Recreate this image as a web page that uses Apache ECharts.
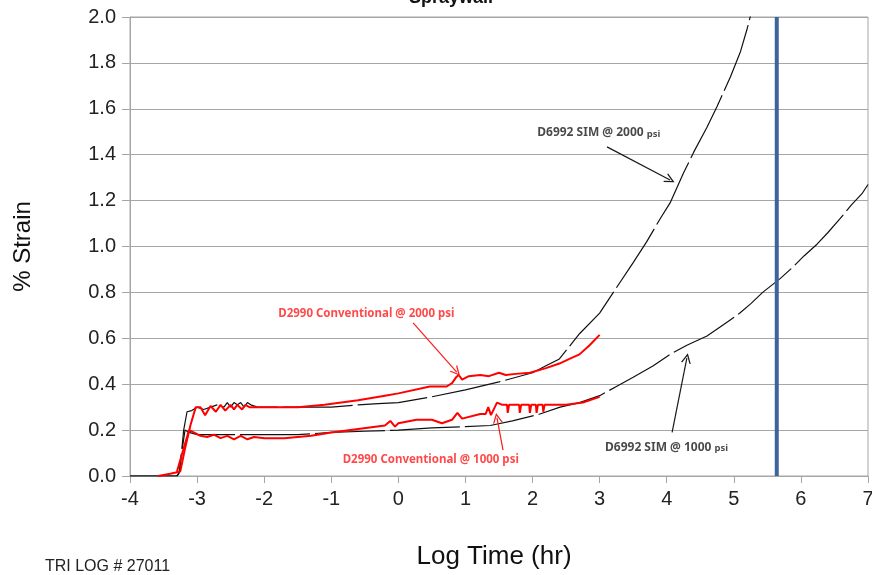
<!DOCTYPE html>
<html>
<head>
<meta charset="utf-8">
<script src="https://cdn.jsdelivr.net/npm/echarts@6/dist/echarts.min.js"></script>
<style>
html,body{margin:0;padding:0;background:#fff;}
#c{width:872px;height:575px;}
</style>
</head>
<body>
<div id="c"></div>
<script>
// ---- data (log time hr, % strain) ----
const sim2000 = [[-4,0],[-3.3,0],[-3.26,0.02],[-3.2,0.2],[-3.15,0.28],[-3.08,0.285],[-3.0,0.30],[-2.9,0.29],[-2.8,0.30],[-2.7,0.31],[-2.6,0.30],[-2.55,0.32],[-2.5,0.30],[-2.45,0.32],[-2.4,0.31],[-2.35,0.32],[-2.3,0.30],[-2.25,0.32],[-2.2,0.31],[-2.1,0.30],[-1.5,0.30],[-1.0,0.30],[-0.6,0.31],[-0.3,0.315],[0,0.32],[0.5,0.345],[1.0,0.375],[1.5,0.41],[2.0,0.45],[2.2,0.48],[2.4,0.51],[2.7,0.62],[3.0,0.71],[3.25,0.82],[3.5,0.93],[3.7,1.02],[3.9,1.12],[4.05,1.19],[4.25,1.32],[4.4,1.41],[4.6,1.52],[4.75,1.61],[4.95,1.74],[5.1,1.85],[5.2,1.95],[5.27,2.03]];
const sim1000 = [[-4,0],[-3.3,0],[-3.27,0.01],[-3.22,0.12],[-3.18,0.2],[-3.12,0.19],[-3.0,0.18],[-2.5,0.18],[-2.0,0.18],[-1.5,0.18],[-1.0,0.19],[-0.5,0.195],[0,0.20],[0.5,0.21],[1.0,0.215],[1.37,0.22],[1.7,0.24],[2.11,0.27],[2.41,0.30],[2.7,0.32],[3.0,0.35],[3.25,0.39],[3.5,0.43],[3.8,0.48],[4.05,0.53],[4.3,0.57],[4.6,0.61],[4.85,0.66],[5.09,0.71],[5.25,0.75],[5.43,0.80],[5.69,0.86],[5.88,0.91],[6.05,0.96],[6.24,1.01],[6.4,1.06],[6.58,1.12],[6.75,1.18],[6.91,1.23],[7.0,1.27]];
const conv2000 = [[-3.58,0],[-3.4,0.01],[-3.25,0.02],[-3.18,0.12],[-3.1,0.22],[-3.02,0.30],[-2.95,0.30],[-2.88,0.265],[-2.8,0.305],[-2.72,0.28],[-2.65,0.31],[-2.58,0.285],[-2.5,0.31],[-2.45,0.29],[-2.4,0.31],[-2.33,0.29],[-2.28,0.31],[-2.22,0.30],[-2.0,0.30],[-1.5,0.30],[-1.1,0.31],[-0.6,0.33],[-0.2,0.35],[0.0,0.36],[0.47,0.39],[0.72,0.39],[0.8,0.405],[0.86,0.43],[0.9,0.44],[0.95,0.42],[1.05,0.435],[1.22,0.44],[1.35,0.435],[1.5,0.45],[1.6,0.44],[1.75,0.445],[1.96,0.45],[2.2,0.47],[2.4,0.49],[2.55,0.51],[2.7,0.53],[2.85,0.57],[3.0,0.615]];
const conv1000 = [[-3.3,0.02],[-3.22,0.1],[-3.12,0.2],[-3.05,0.19],[-2.95,0.175],[-2.85,0.17],[-2.75,0.18],[-2.65,0.165],[-2.55,0.175],[-2.45,0.16],[-2.35,0.175],[-2.25,0.16],[-2.15,0.17],[-2.0,0.165],[-1.7,0.165],[-1.3,0.175],[-1.0,0.19],[-0.6,0.205],[-0.2,0.22],[-0.12,0.24],[-0.05,0.215],[0,0.23],[0.27,0.245],[0.5,0.245],[0.65,0.23],[0.8,0.245],[0.88,0.275],[0.95,0.25],[1.22,0.27],[1.3,0.27],[1.34,0.30],[1.38,0.265],[1.47,0.32],[1.55,0.31],[1.62,0.31],[1.63,0.275],[1.65,0.31],[1.8,0.31],[1.81,0.275],[1.83,0.31],[1.95,0.31],[1.96,0.275],[1.98,0.31],[2.05,0.31],[2.06,0.275],[2.08,0.31],[2.15,0.31],[2.16,0.28],[2.18,0.31],[2.5,0.31],[2.75,0.32],[3.0,0.345]];
const limitX = 5.64;
const xTicks = {min: -4, max: 7, step: 1};
const yTicks = {min: 0, max: 2, step: 0.2};
const notes = [
  {name: 'D6992 SIM @ 2000 ', unit: 'psi', at: [2.07, 1.495], from: [3.11, 1.434], to: [4.05, 1.29], color: '#1a1a1a'},
  {name: 'D6992 SIM @ 1000 ', unit: 'psi', at: [3.08, 0.126], from: [4.08, 0.19], to: [4.30, 0.514], color: '#1a1a1a'},
  {name: 'D2990 Conventional @ 2000 psi', unit: '', at: [-1.79, 0.706], from: [0.22, 0.667], to: [0.87, 0.453], color: '#ff1a1a'},
  {name: 'D2990 Conventional @ 1000 psi', unit: '', at: [-0.83, 0.07], from: [1.56, 0.113], to: [1.47, 0.253], color: '#ff1a1a'}
];

const chart = echarts.init(document.getElementById('c'));
const gray = '#a6a6a6';
const chevron = 'path://M0,10 L5,0 L10,10 L8.6,10 L5,2.8 L1.4,10 Z';

const series = [
  {type:'line', data: sim2000, symbol:'none', lineStyle:{color:'#111', width:1.2, type:[70,5]}, z:3},
  {type:'line', data: sim1000, symbol:'none', lineStyle:{color:'#111', width:1.2, type:[70,5]}, z:3},
  {type:'line', data: conv2000, symbol:'none', lineStyle:{color:'#ff0000', width:2}, z:4},
  {type:'line', data: conv1000, symbol:'none', lineStyle:{color:'#ff0000', width:2}, z:4},
  {type:'line', data: [[limitX, yTicks.min],[limitX, yTicks.max]], symbol:'none', lineStyle:{color:'#3c659c', width:4}, z:5},
  {type:'lines', coordinateSystem:'cartesian2d', z:6,
   symbol:['none', chevron], symbolSize:[10,10],
   data: notes.map(n => ({coords:[n.from, n.to], lineStyle:{color:n.color, width:1.2, opacity:1}}))},
  {type:'scatter', symbolSize:0, z:7,
   data: notes.map(n => ({value:n.at, label:{show:true, position:'right', distance:0,
     formatter: '{a|' + n.name + '}' + (n.unit ? '{b|' + n.unit + '}' : ''),
     rich:{a:{fontFamily:'Noto Sans', fontWeight:'bold', fontSize:n.unit ? 12 : 11.5, color:n.color},
           b:{fontFamily:'Noto Sans', fontWeight:'bold', fontSize:9.5, color:n.color, padding:[2,0,0,0]}}}}))}
];

chart.setOption({
  animation:false,
  backgroundColor:'#fff',
  grid:{left:130, right:4, top:17, bottom:99, show:true, borderColor:gray, borderWidth:1, outerBoundsMode:'none', containLabel:false},
  xAxis:{type:'value', min:xTicks.min, max:xTicks.max, interval:xTicks.step,
    axisLine:{show:true, onZero:false, lineStyle:{color:gray}},
    axisTick:{show:true, length:7, lineStyle:{color:gray}},
    splitLine:{show:false},
    axisLabel:{fontFamily:'Liberation Sans', fontSize:20, color:'#222', margin:13}},
  yAxis:{type:'value', min:yTicks.min, max:yTicks.max, interval:yTicks.step,
    name:'% Strain', nameLocation:'middle', nameGap:95, nameRotate:90,
    nameTextStyle:{fontFamily:'Liberation Sans', fontSize:24, color:'#111'},
    axisLine:{show:true, onZero:false, lineStyle:{color:gray}},
    axisTick:{show:true, length:8, lineStyle:{color:gray}},
    splitLine:{show:true, lineStyle:{color:gray}},
    axisLabel:{fontFamily:'Liberation Sans', fontSize:20, color:'#222', margin:14,
      formatter: v => v.toFixed(1)}},
  graphic:[
    {type:'text', style:{text:'Spraywall', x:451, y:7, align:'center', verticalAlign:'bottom',
      font:'bold 18px "Liberation Sans"', fill:'#111'}},
    {type:'text', style:{text:'Log Time (hr)', x:494, y:557, align:'center', verticalAlign:'middle',
      font:'26px "Liberation Sans"', fill:'#111'}},
    {type:'text', style:{text:'TRI LOG # 27011', x:45, y:567, align:'left', verticalAlign:'middle',
      font:'16px "Liberation Sans"', fill:'#222'}}
  ],
  series: series
});
</script>
</body>
</html>
